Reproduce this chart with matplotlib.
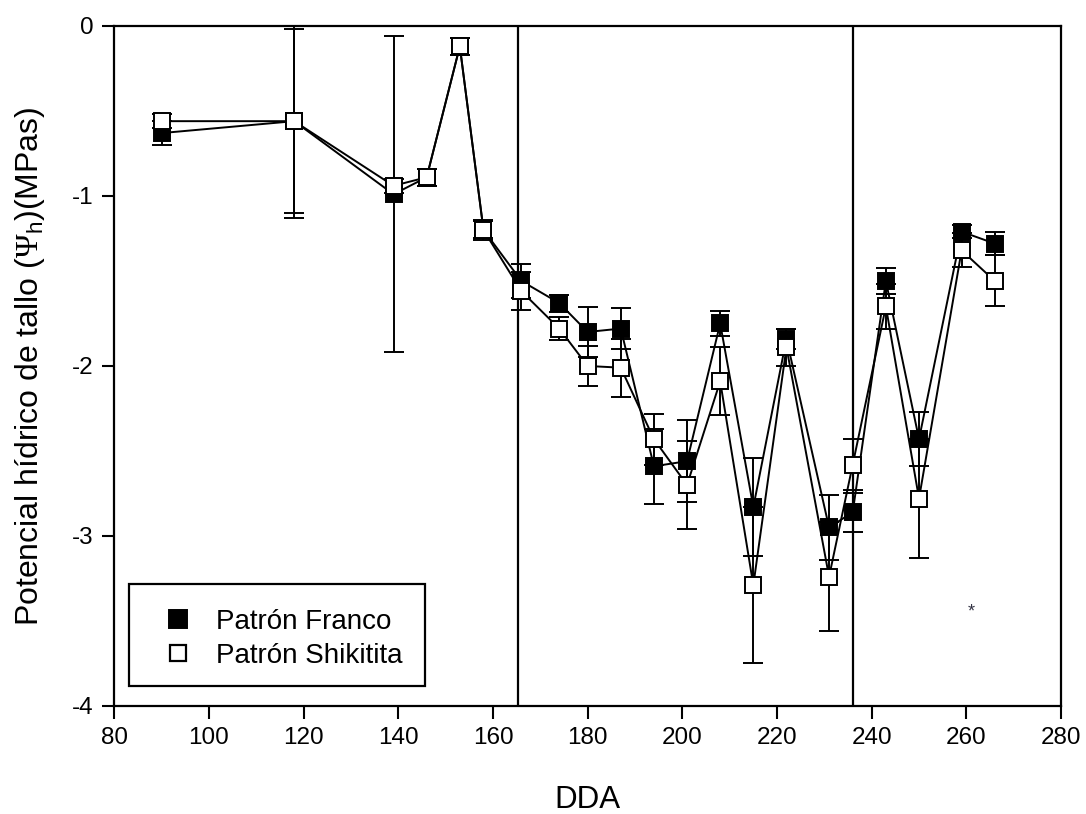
import matplotlib
matplotlib.use("Agg")
import matplotlib.pyplot as plt
from matplotlib.lines import Line2D
from matplotlib.patches import Rectangle

plt.rcParams['font.family'] = ['Liberation Sans', 'DejaVu Sans']
plt.rcParams['axes.unicode_minus'] = False
plt.rcParams['mathtext.fontset'] = 'custom'
plt.rcParams['mathtext.rm'] = 'Liberation Serif'
plt.rcParams['mathtext.sf'] = 'Liberation Sans'

# Days after bloom (DDA)
days = [90, 118, 139, 146, 153, 158, 166, 174, 180, 187, 194, 201, 208,
        215, 222, 231, 236, 243, 250, 259, 266]

# Stem water potential (MPa), mean and error
franco = [-0.63, -0.56, -0.99, -0.89, -0.12, -1.20, -1.50, -1.63, -1.80,
          -1.78, -2.59, -2.56, -1.75, -2.83, -1.84, -2.95, -2.86, -1.50,
          -2.43, -1.21, -1.28]
franco_err = [0.07, 0.57, 0.93, 0.05, 0.05, 0.05, 0.10, 0.05, 0.145, 0.12,
              0.22, 0.24, 0.075, 0.29, 0.06, 0.19, 0.115, 0.075, 0.16, 0.04,
              0.07]

shikitita = [-0.56, -0.56, -0.94, -0.89, -0.12, -1.20, -1.56, -1.78, -2.00,
             -2.01, -2.43, -2.70, -2.09, -3.29, -1.89, -3.24, -2.58, -1.65,
             -2.78, -1.32, -1.50]
shikitita_err = [0.04, 0.54, 0.04, 0.05, 0.05, 0.06, 0.11, 0.07, 0.12, 0.17,
                 0.15, 0.26, 0.20, 0.46, 0.11, 0.32, 0.15, 0.13, 0.35, 0.10,
                 0.15]

series_names = ['Patrón Franco', 'Patrón Shikitita']
phase_limits = [165.3, 236.1]
xticks = [80, 100, 120, 140, 160, 180, 200, 220, 240, 260, 280]
yticks = [0, -1, -2, -3, -4]

fig = plt.figure(figsize=(10.86, 8.14), dpi=100)
ax = fig.add_axes([0.1052, 0.1327, 0.8718, 0.8354])

for xv in phase_limits:
    ax.axvline(xv, color='black', lw=1.6, zorder=1)

common = dict(color='black', lw=1.4, ms=12, capsize=7.5, elinewidth=1.4,
              capthick=1.6, mew=1.4, mec='black', marker='s')
ax.errorbar(days, franco, yerr=franco_err, mfc='black', zorder=3, **common)
ax.errorbar(days, shikitita, yerr=shikitita_err, mfc='white', zorder=4,
            **common)

ax.text(261, -3.45, '*', fontsize=13, color='#333344', ha='center',
        va='center')

ax.set_xlim(80, 280)
ax.set_ylim(-4, 0)
ax.set_xticks(xticks)
ax.set_yticks(yticks)
ax.set_xticklabels([str(v) for v in xticks])
ax.set_yticklabels([str(v) for v in yticks])
ax.tick_params(direction='out', length=9, width=1.5, labelsize=17.5,
               top=False, right=False, pad=6)
for sp in ax.spines.values():
    sp.set_linewidth(1.6)

ax.set_xlabel('DDA', fontsize=22.5, labelpad=26)
ax.set_ylabel('Potencial hídrico de tallo ($\\mathrm{\\Psi}_{\\mathsf{h}}$)(MPas)',
              fontsize=23, labelpad=18)

# legend box drawn as its own frame, entries placed inside it
ax.add_patch(Rectangle((0.0158, 0.0294), 0.3124, 0.15, transform=ax.transAxes,
                       fc='white', ec='black', lw=1.6, zorder=5))
handles = [
    Line2D([], [], ls='none', marker='s', ms=13, mfc='black', mec='black',
           mew=1.4),
    Line2D([], [], ls='none', marker='s', ms=11, mfc='white', mec='black',
           mew=1.6),
]
leg = ax.legend(handles, series_names, loc='center left',
                bbox_to_anchor=(0.0393, 0.0987), fontsize=20, frameon=False,
                handlelength=1.93, handletextpad=0.4, borderpad=0,
                labelspacing=0.28, borderaxespad=0)
leg.set_zorder(6)

fig.savefig('out.png', dpi=100)
